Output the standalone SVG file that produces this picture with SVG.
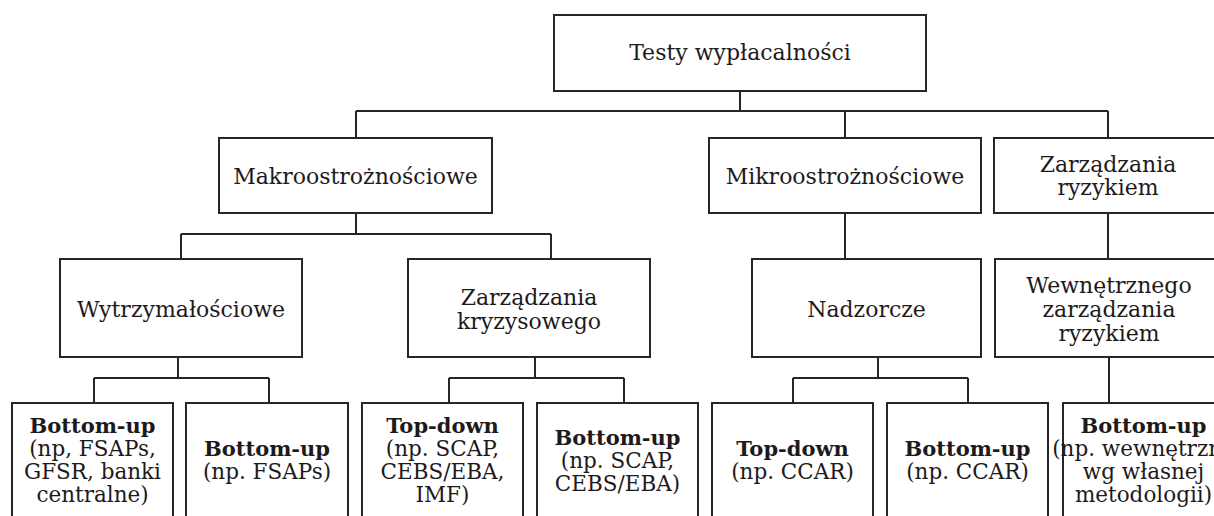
<svg xmlns="http://www.w3.org/2000/svg" width="1214" height="516" viewBox="0 0 1214 516">
<style>
.box{fill:#fff;stroke:#262626;stroke-width:2}
.t{font-family:"DejaVu Serif","Liberation Serif",serif;font-size:22px;fill:#1e1a1b;text-anchor:middle}
.s{font-size:21.5px}
.b{font-weight:bold;font-size:21px}
.c{fill:none;stroke:#262626;stroke-width:2}
</style>
<rect width="1214" height="516" fill="#fff"/>
<g id="connectors">
<path class="c" d="M740 91V111M356 111H1108M356 111V138M845 111V138M1108 111V138"/>
<path class="c" d="M356 213V234M181 234H551M181 234V259M551 234V259"/>
<path class="c" d="M845 213V259M1108 213V259"/>
<path class="c" d="M178 357V378M94 378H269M94 378V403M269 378V403"/>
<path class="c" d="M535 357V378M449 378H624M449 378V403M624 378V403"/>
<path class="c" d="M878 357V378M793 378H968M793 378V403M968 378V403"/>
<path class="c" d="M1109 357V403"/>
</g>
<g id="root"><rect class="box" x="554" y="15" width="372" height="76"/><text class="t" x="740" y="60">Testy wypłacalności</text></g>
<g id="makro"><rect class="box" x="219" y="138" width="273" height="75"/><text class="t" x="355.5" y="184">Makroostrożnościowe</text></g>
<g id="mikro"><rect class="box" x="709" y="138" width="272" height="75"/><text class="t" x="845" y="184">Mikroostrożnościowe</text></g>
<g id="zarz-ryz"><rect class="box" x="994" y="138" width="228" height="75"/><text class="t" x="1108" y="172">Zarządzania</text><text class="t" x="1108" y="195">ryzykiem</text></g>
<g id="wytrz"><rect class="box" x="60" y="259" width="242" height="98"/><text class="t" x="181" y="317">Wytrzymałościowe</text></g>
<g id="kryz"><rect class="box" x="408" y="259" width="242" height="98"/><text class="t" x="529" y="305">Zarządzania</text><text class="t" x="529" y="329">kryzysowego</text></g>
<g id="nadz"><rect class="box" x="752" y="259" width="229" height="98"/><text class="t" x="866.5" y="317">Nadzorcze</text></g>
<g id="wewn"><rect class="box" x="995" y="259" width="228" height="98"/><text class="t" x="1109" y="293">Wewnętrznego</text><text class="t" x="1109" y="317">zarządzania</text><text class="t" x="1109" y="341">ryzykiem</text></g>
<g id="b1"><rect class="box" x="12" y="403" width="161" height="130"/><text class="t b" x="92.5" y="433">Bottom-up</text><text class="t s" x="92.5" y="456">(np, FSAPs,</text><text class="t s" x="92.5" y="479">GFSR, banki</text><text class="t s" x="92.5" y="502">centralne)</text></g>
<g id="b2"><rect class="box" x="186" y="403" width="162" height="130"/><text class="t b" x="267" y="456">Bottom-up</text><text class="t s" x="267" y="479">(np. FSAPs)</text></g>
<g id="b3"><rect class="box" x="362" y="403" width="161" height="130"/><text class="t b" x="442.5" y="433">Top-down</text><text class="t s" x="442.5" y="456">(np. SCAP,</text><text class="t s" x="442.5" y="479">CEBS/EBA,</text><text class="t s" x="442.5" y="502">IMF)</text></g>
<g id="b4"><rect class="box" x="537" y="403" width="161" height="130"/><text class="t b" x="617.5" y="444.5">Bottom-up</text><text class="t s" x="617.5" y="467.5">(np. SCAP,</text><text class="t s" x="617.5" y="490.5">CEBS/EBA)</text></g>
<g id="b5"><rect class="box" x="712" y="403" width="161" height="130"/><text class="t b" x="792.5" y="456">Top-down</text><text class="t s" x="792.5" y="479">(np. CCAR)</text></g>
<g id="b6"><rect class="box" x="887" y="403" width="161" height="130"/><text class="t b" x="967.5" y="456">Bottom-up</text><text class="t s" x="967.5" y="479">(np. CCAR)</text></g>
<g id="b7"><rect class="box" x="1063" y="403" width="161" height="130"/><text class="t b" x="1143.5" y="433">Bottom-up</text><text class="t s" x="1143.5" y="456">(np. wewnętrzne</text><text class="t s" x="1143.5" y="479">wg własnej</text><text class="t s" x="1143.5" y="502">metodologii)</text></g>
</svg>
